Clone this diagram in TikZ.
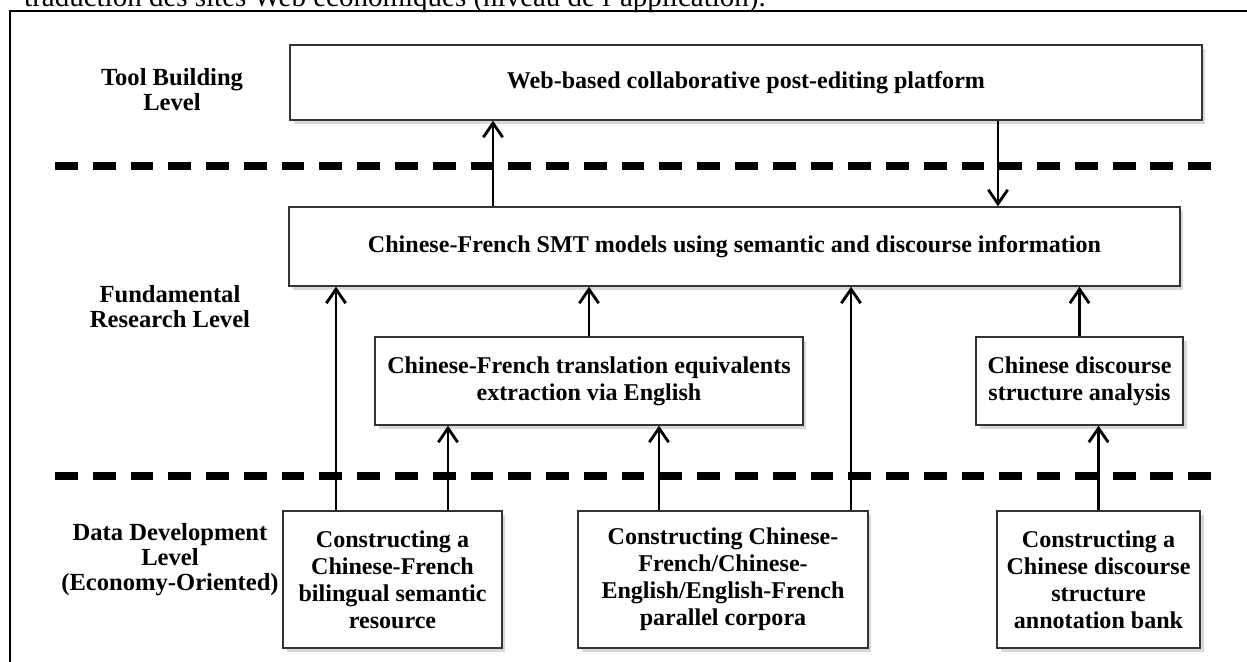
\documentclass[tikz,border=0pt]{standalone}
\usepackage{fontspec}
\setmainfont{Liberation Serif}
\usepackage{tikz}
\usetikzlibrary{arrows.meta,shadows}

\tikzset{
  box/.style={draw=black!80, line width=0.8pt, fill=white, inner sep=0pt, align=center,
    font=\bfseries\fontsize{13.7}{15.3}\selectfont,
    drop shadow={shadow xshift=2pt, shadow yshift=-2pt, fill=black!30, opacity=0.5}},
  lvl/.style={align=center, font=\bfseries\fontsize{14}{14.2}\selectfont},
  sepline/.style={line width=4pt, dash pattern=on 13pt off 8.5pt},
  arr/.style={line width=1.6pt, -{Straight Barb[length=8pt,width=11pt]}}
}

\begin{document}
\begin{tikzpicture}[x=0.02cm, y=-0.02cm]
\useasboundingbox (0,0) rectangle (1247,662);
\clip (0,0) rectangle (1247,662);

\node[anchor=base west, font=\fontsize{16.5}{19}\selectfont] (cap) at (18,6.5) {traduction des sites Web économiques (niveau de l'application).};
\draw[line width=1.7pt] (10,700) -- (10,11) -- (1280,11);

\node[lvl] (tool) at (172,90) {Tool Building\\Level};
\node[lvl] (fund) at (170,307) {Fundamental\\Research Level};
\node[lvl] (data) at (170,560) {Data Development\\Level\\(Economy-Oriented)};

\draw[sepline] (55,166) -- (1215,166);
\draw[sepline] (55,476) -- (1215,476);

\node[box, minimum width=18.24cm, minimum height=1.5cm] (web) at (746,82.5) {Web-based collaborative post-editing platform};
\node[box, minimum width=17.82cm, minimum height=1.58cm] (smt) at (734.5,246.5) {Chinese-French SMT models using semantic and discourse information};
\node[box, minimum width=8.56cm, minimum height=1.76cm] (trans) at (589,381) {Chinese-French translation equivalents\\extraction via English};
\node[box, minimum width=4.14cm, minimum height=1.76cm] (ana) at (1079.5,381) {Chinese discourse\\structure analysis};
\node[box, minimum width=4.38cm, minimum height=2.74cm] (res) at (392.5,579.5) {Constructing a\\Chinese-French\\bilingual semantic\\resource};
\node[box, minimum width=5.8cm, minimum height=2.74cm] (par) at (723,579.5) {Constructing Chinese-\\French/Chinese-\\English/English-French\\parallel corpora};
\node[box, minimum width=4.06cm, minimum height=2.74cm] (bank) at (1098.5,579.5) {Constructing a\\Chinese discourse\\structure\\annotation bank};

\coordinate (up1) at (493,0);
\coordinate (dn1) at (998,0);
\coordinate (r1) at (336,0);
\coordinate (r2) at (448,0);
\coordinate (p1) at (659,0);
\coordinate (p2) at (851,0);

\draw[arr] (smt.north -| up1) -- (web.south -| up1);
\draw[arr] (web.south -| dn1) -- (smt.north -| dn1);
\draw[arr] (res.north -| r1) -- (smt.south -| r1);
\draw[arr] (res.north -| r2) -- (trans.south -| r2);
\draw[arr] (trans.north) -- (smt.south -| trans.north);
\draw[arr] (par.north -| p1) -- (trans.south -| p1);
\draw[arr] (par.north -| p2) -- (smt.south -| p2);
\draw[arr] (ana.north) -- (smt.south -| ana.north);
\draw[arr] (bank.north) -- (ana.south -| bank.north);
\end{tikzpicture}
\end{document}
